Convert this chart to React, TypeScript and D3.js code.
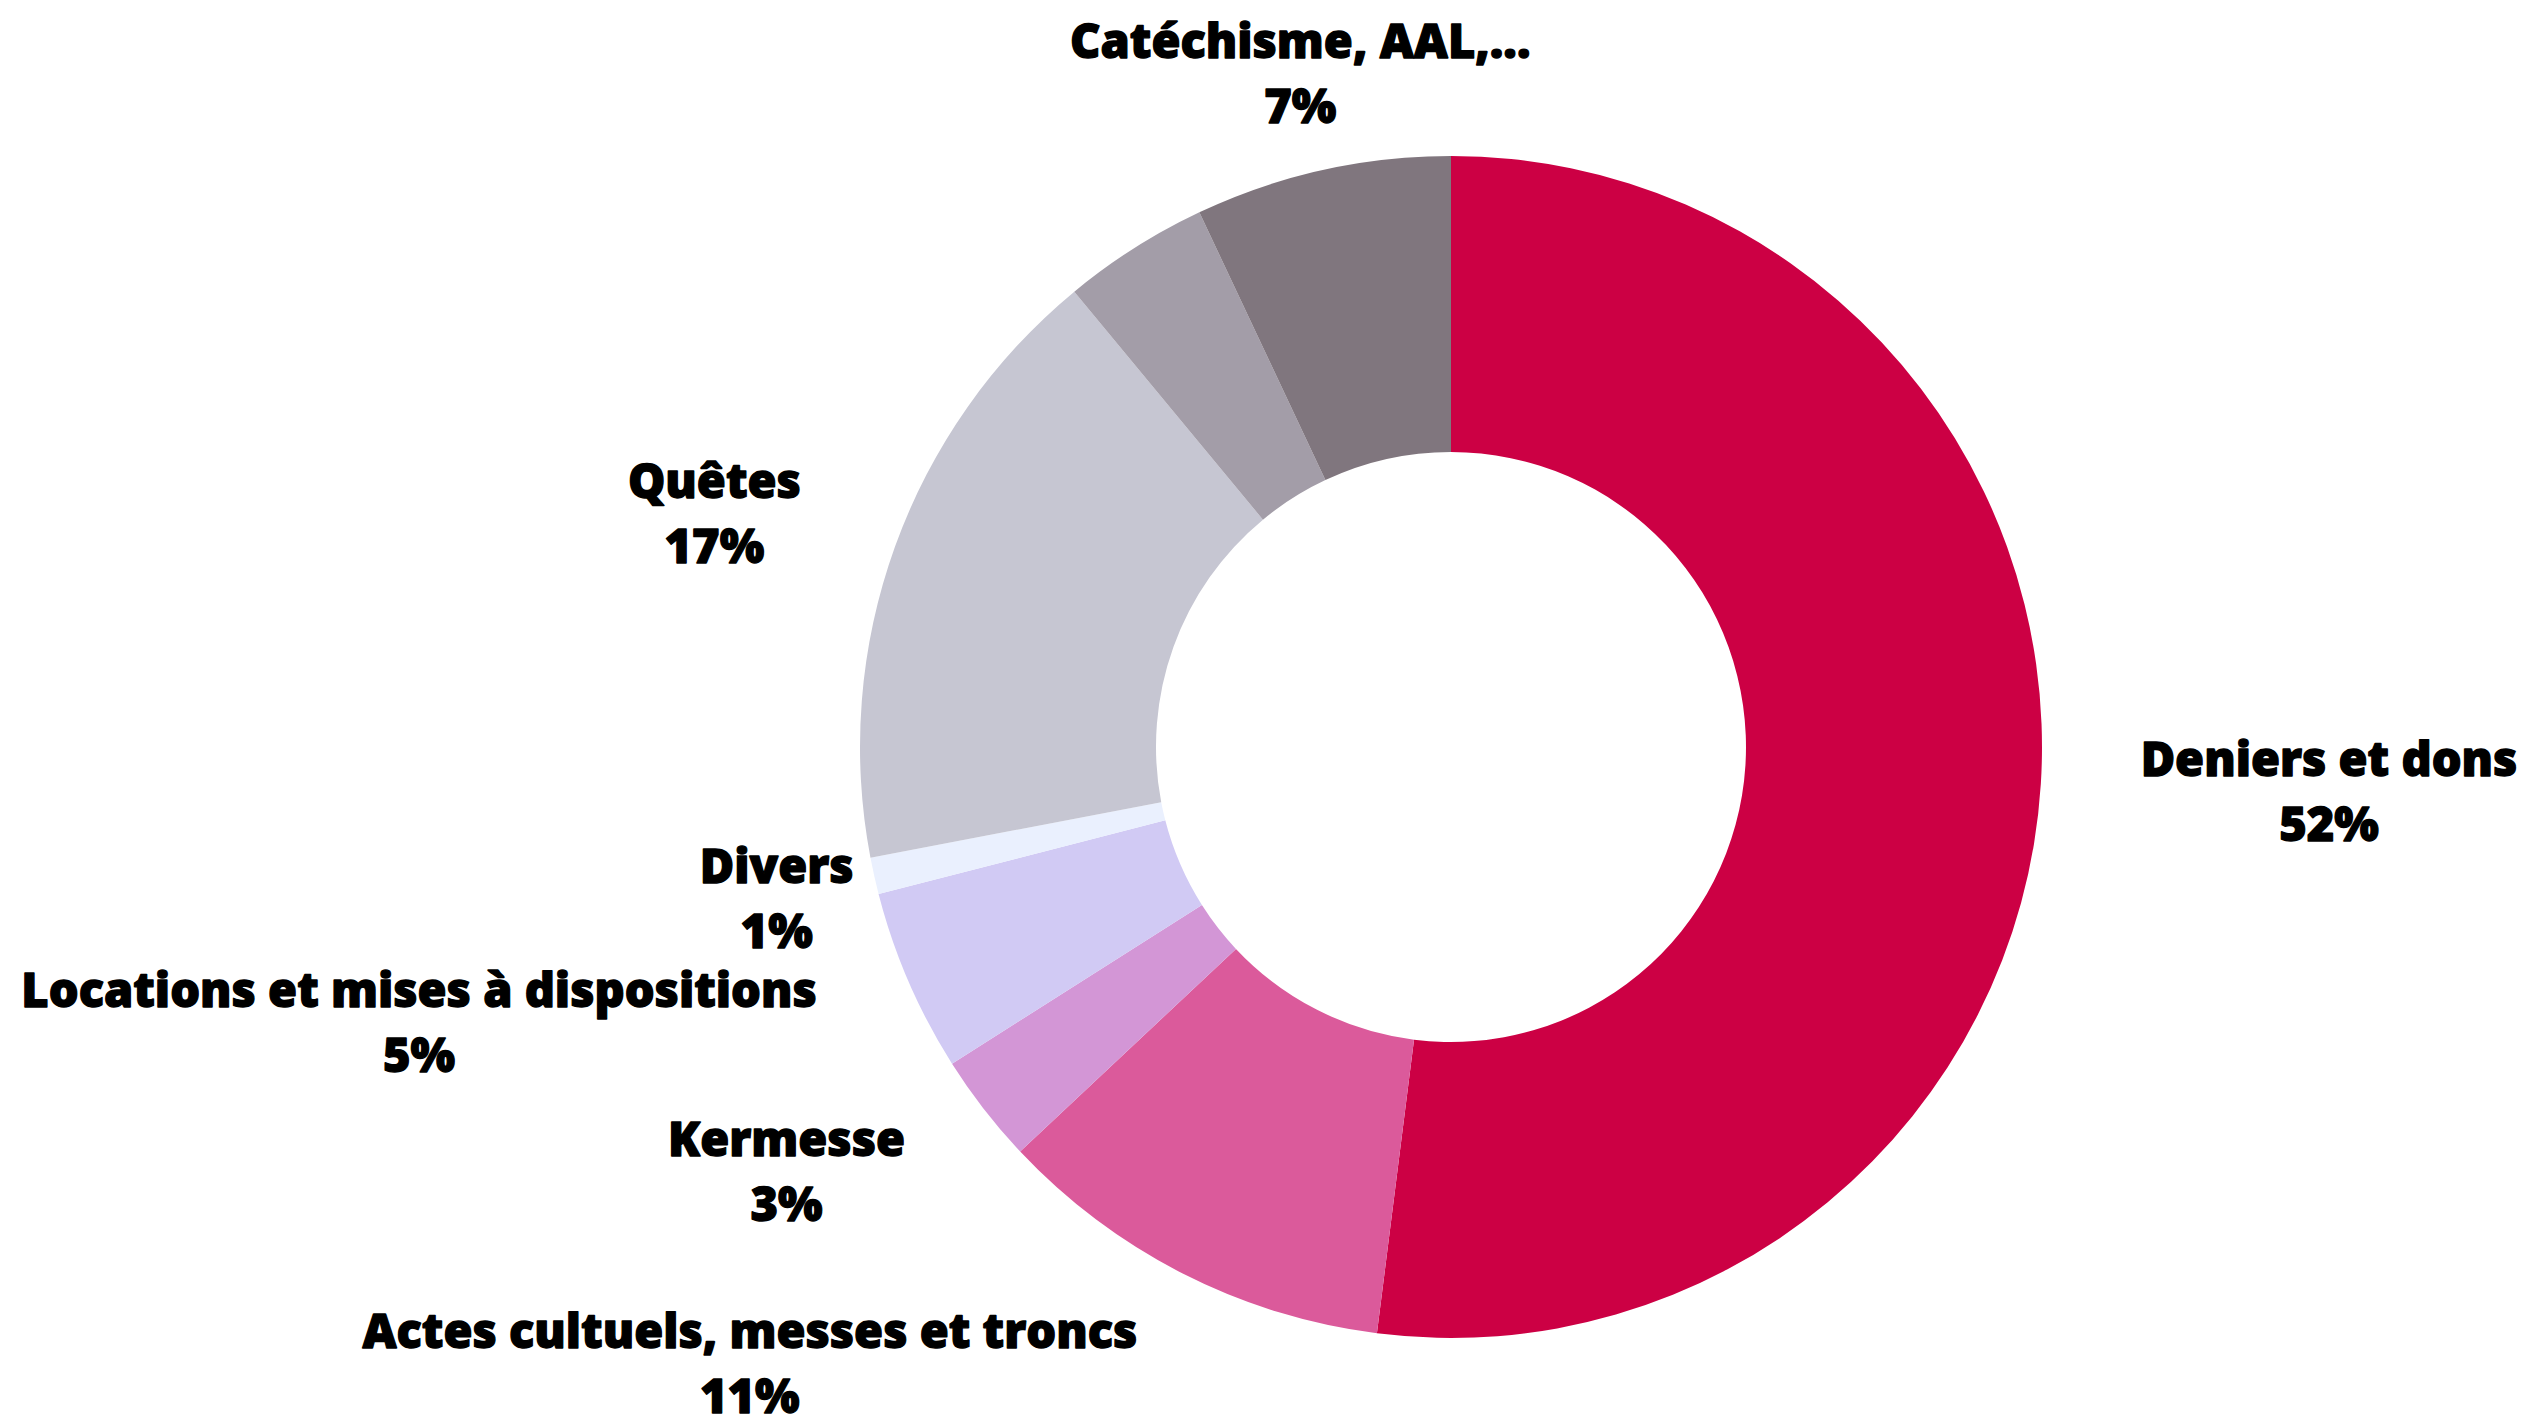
import { useEffect, useRef } from "react";
import * as d3 from "d3";

// Slices, clockwise from 12 o'clock
const categories = [
  "Deniers et dons",
  "Actes cultuels, messes et troncs",
  "Kermesse",
  "Locations et mises à dispositions",
  "Divers",
  "Quêtes",
  "",
  "Catéchisme, AAL,...",
];
const percents = [52, 11, 3, 5, 1, 17, 4, 7];
const colors = [
  "#cc0044",
  "#db5a9b",
  "#d396d6",
  "#d1caf4",
  "#eaf0fe",
  "#c6c6d2",
  "#a39da8",
  "#80767e",
];

type Slice = { name: string; value: number; color: string };

export default function App() {
  const svgRef = useRef<SVGSVGElement>(null);
  const width = 2528;
  const height = 1416;

  useEffect(() => {
    if (!svgRef.current) return;
    const svg = d3.select(svgRef.current);
    svg.selectAll("*").remove();

    const cx = 1451;
    const cy = 747;
    const outerR = 591;
    const innerR = 295;
    const labelR = 691;

    const data: Slice[] = categories.map((name, i) => ({
      name,
      value: percents[i],
      color: colors[i],
    }));

    const pie = d3
      .pie<Slice>()
      .value((d) => d.value)
      .sort(null);
    const arcs = pie(data);

    const arc = d3.arc<d3.PieArcDatum<Slice>>().innerRadius(innerR).outerRadius(outerR);
    const labelArc = d3.arc<d3.PieArcDatum<Slice>>().innerRadius(labelR).outerRadius(labelR);

    const g = svg.append("g").attr("transform", `translate(${cx},${cy})`);

    g.selectAll("path")
      .data(arcs)
      .join("path")
      .attr("d", arc)
      .attr("fill", (d) => d.data.color);

    // Divers sits centred on its anchor point instead of right-aligned
    const centred = new Set(["Divers"]);

    const lineGap = 65;
    arcs
      .filter((d) => d.data.name !== "")
      .forEach((d) => {
        const [x, y] = labelArc.centroid(d);
        const mid = (d.startAngle + d.endAngle) / 2;
        const s = Math.sin(mid);
        let anchor = s > 0.3 ? "start" : s < -0.3 ? "end" : "middle";
        if (centred.has(d.data.name)) anchor = "middle";

        const text = g
          .append("text")
          .attr("text-anchor", "middle")
          .attr("font-family", "'Open Sans', sans-serif")
          .attr("font-weight", 800)
          .attr("font-size", 47)
          .attr("fill", "#000")
          .attr("stroke", "#000")
          .attr("stroke-width", 1.3)
          .attr("stroke-linejoin", "round");

        const l1 = text
          .append("tspan")
          .attr("x", 0)
          .attr("y", y - lineGap / 2)
          .attr("dominant-baseline", "central")
          .text(d.data.name);
        const l2 = text
          .append("tspan")
          .attr("x", 0)
          .attr("y", y + lineGap / 2)
          .attr("dominant-baseline", "central")
          .text(`${d.data.value}%`);

        // block width for start/end alignment, each line centred in it
        const w = (text.node() as SVGTextElement).getBBox().width;
        const bx = anchor === "start" ? x + w / 2 : anchor === "end" ? x - w / 2 : x;
        l1.attr("x", bx);
        l2.attr("x", bx);
      });
  }, []);

  return (
    <svg
      ref={svgRef}
      width={width}
      height={height}
      style={{ position: "absolute", left: 0, top: 0, background: "#fff" }}
    />
  );
}
